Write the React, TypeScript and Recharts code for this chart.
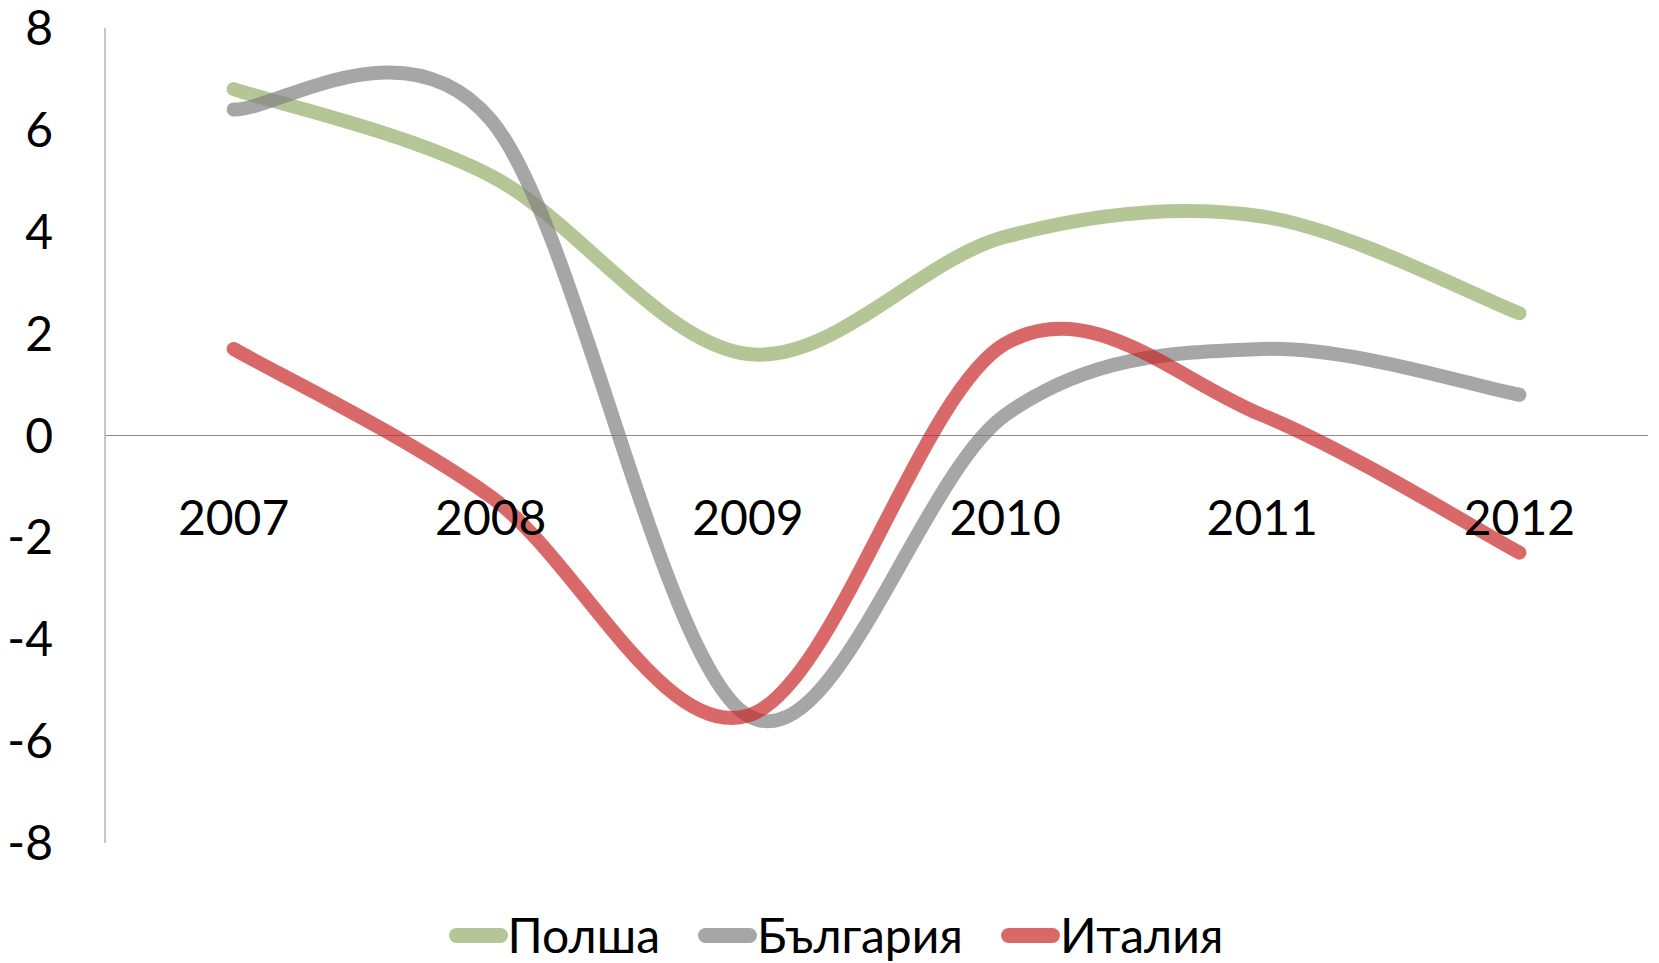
import React from 'react';
import { LineChart, Line, XAxis, YAxis, ReferenceLine, ReferenceDot, Legend } from 'recharts';

// ---- data ----
const years = ['2007', '2008', '2009', '2010', '2011', '2012'];
const poland = [6.8, 5.1, 1.6, 3.9, 4.3, 2.4];
const bulgaria = [6.4, 6.2, -5.5, 0.4, 1.7, 0.8];
const italy = [1.7, -1.2, -5.5, 1.8, 0.4, -2.3];
const seriesNames = ['Полша', 'България', 'Италия'];
const yTicks = [-8, -6, -4, -2, 0, 2, 4, 6, 8];

const data = years.map((y, i) => ({ year: y, p: poland[i], b: bulgaria[i], it: italy[i] }));

const FONT = "Lato, 'Open Sans', sans-serif";
const LINE_OPACITY = 0.7;
const COLORS = { p: '#94ae69', b: '#808080', it: '#c92a2a' };

// Excel-like smoothed line (Catmull-Rom with 1/6 control offsets)
function excelCurve(context: any) {
  let pts: number[][] = [];
  return {
    areaStart() {},
    areaEnd() {},
    lineStart() {
      pts = [];
    },
    point(x: number, y: number) {
      pts.push([+x, +y]);
    },
    lineEnd() {
      const n = pts.length;
      if (n === 0) return;
      context.moveTo(pts[0][0], pts[0][1]);
      if (n === 1) return;
      for (let i = 0; i < n - 1; i++) {
        const p0 = pts[Math.max(0, i - 1)];
        const p1 = pts[i];
        const p2 = pts[i + 1];
        const p3 = pts[Math.min(n - 1, i + 2)];
        const c1x = p1[0] + (p2[0] - p0[0]) / 6;
        const c1y = p1[1] + (p2[1] - p0[1]) / 6;
        const c2x = p2[0] - (p3[0] - p1[0]) / 6;
        const c2y = p2[1] - (p3[1] - p1[1]) / 6;
        context.bezierCurveTo(c1x, c1y, c2x, c2y, p2[0], p2[1]);
      }
    },
  };
}

const renderLegend = (props: any) => {
  const payload = [...(props.payload || [])].sort(
    (a: any, b: any) => seriesNames.indexOf(a.value) - seriesNames.indexOf(b.value)
  );
  return (
    <div
      style={{
        height: 118,
        boxSizing: 'border-box',
        paddingTop: 68,
        paddingLeft: 24,
        display: 'flex',
        justifyContent: 'center',
        fontFamily: FONT,
      }}
    >
      {payload.map((entry: any, idx: number) => (
        <div
          key={idx}
          style={{
            display: 'flex',
            alignItems: 'center',
            height: 48,
            marginRight: idx < payload.length - 1 ? 38 : 0,
          }}
        >
          <svg width={59} height={15} style={{ display: 'block' }}>
            <line
              x1={7.5}
              y1={7.5}
              x2={51.5}
              y2={7.5}
              stroke={entry.color}
              strokeOpacity={LINE_OPACITY}
              strokeWidth={15}
              strokeLinecap="round"
            />
          </svg>
          <span style={{ fontSize: 48, lineHeight: '48px', color: '#000' }}>{entry.value}</span>
        </div>
      ))}
    </div>
  );
};

export default function App() {
  return (
    <div style={{ position: 'absolute', left: 0, top: 0, width: 1659, height: 963, overflow: 'hidden', background: '#fff' }}>
      <LineChart width={1659} height={963} data={data} margin={{ top: 28, right: 11, left: 0, bottom: 2 }}>
        <XAxis dataKey="year" type="category" scale="band" hide />
        <YAxis
          type="number"
          domain={[-8, 8]}
          ticks={yTicks}
          interval={0}
          width={105}
          axisLine={{ stroke: '#b3b3b3', strokeWidth: 1.5 }}
          tickLine={false}
          tickSize={0}
          tickMargin={52}
          tick={{ fill: '#000', fontSize: 48, fontFamily: FONT }}
          allowDataOverflow
        />
        <ReferenceLine y={0} stroke="#8c8c8c" strokeWidth={1.2} ifOverflow="visible" />
        {years.map((y) => (
          <ReferenceDot
            key={y}
            x={y}
            y={0}
            r={0}
            fill="none"
            stroke="none"
            ifOverflow="visible"
            label={{ value: y, position: 'bottom', offset: 65, fill: '#000', fontSize: 48, fontFamily: FONT }}
          />
        ))}
        <Line
          dataKey="p"
          name={seriesNames[0]}
          type={excelCurve as any}
          stroke={COLORS.p}
          strokeOpacity={LINE_OPACITY}
          strokeWidth={14}
          strokeLinecap="round"
          strokeLinejoin="round"
          dot={false}
          activeDot={false}
          isAnimationActive={false}
        />
        <Line
          dataKey="b"
          name={seriesNames[1]}
          type={excelCurve as any}
          stroke={COLORS.b}
          strokeOpacity={LINE_OPACITY}
          strokeWidth={14}
          strokeLinecap="round"
          strokeLinejoin="round"
          dot={false}
          activeDot={false}
          isAnimationActive={false}
        />
        <Line
          dataKey="it"
          name={seriesNames[2]}
          type={excelCurve as any}
          stroke={COLORS.it}
          strokeOpacity={LINE_OPACITY}
          strokeWidth={14}
          strokeLinecap="round"
          strokeLinejoin="round"
          dot={false}
          activeDot={false}
          isAnimationActive={false}
        />
        <Legend verticalAlign="bottom" content={renderLegend} />
      </LineChart>
    </div>
  );
}
